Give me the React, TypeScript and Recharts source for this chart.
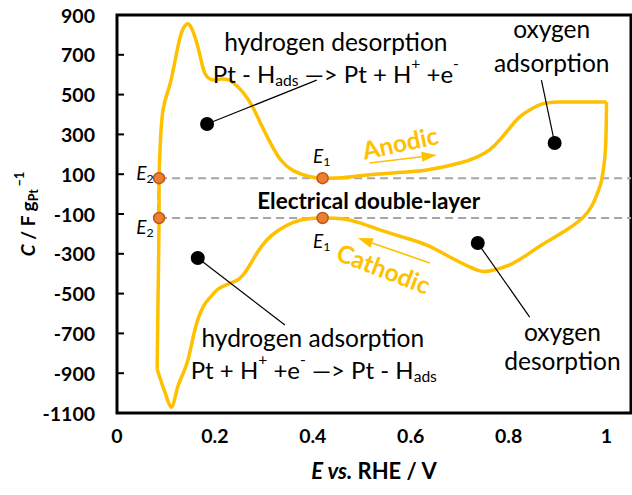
import {
  LineChart, Line, XAxis, YAxis, ReferenceLine, ReferenceDot, ReferenceArea,
} from 'recharts';

const FONT = 'Lato, "Open Sans", sans-serif';
const GOLD = '#FFC000';
const ORANGE = '#ED7D31';

const xTicks = [0, 0.2, 0.4, 0.6, 0.8, 1];
const yTicks = [-1100, -900, -700, -500, -300, -100, 100, 300, 500, 700, 900];

// anodic sweep, lower vertex -> upper vertex, [E / V, C / F g-1]
const anodicScan = [
  [0.082, -880], [0.084, -500], [0.086, -120], [0.086, 80], [0.089, 280], [0.094, 423],
  [0.103, 510], [0.112, 590], [0.126, 759], [0.135, 830], [0.143, 855], [0.152, 835],
  [0.163, 759], [0.172, 670], [0.18, 605], [0.19, 578], [0.2, 573], [0.212, 578],
  [0.225, 576], [0.236, 563], [0.257, 513], [0.277, 438], [0.297, 337], [0.315, 250],
  [0.335, 170], [0.36, 118], [0.39, 90], [0.42, 80], [0.46, 82], [0.496, 92],
  [0.563, 106], [0.633, 121], [0.7, 156], [0.735, 186], [0.761, 222], [0.782, 272],
  [0.802, 332], [0.822, 387], [0.843, 423], [0.863, 448], [0.878, 458], [0.904, 463],
  [0.95, 463], [1.0, 463],
];

// cathodic sweep, upper vertex -> lower vertex
const cathodicScan = [
  [1.0, 463], [0.999, 300], [0.996, 170], [0.99, 71], [0.984, 21], [0.971, -55],
  [0.951, -120], [0.918, -180], [0.878, -240], [0.843, -296], [0.802, -356], [0.761, -386],
  [0.741, -386], [0.72, -366], [0.68, -316], [0.633, -256], [0.584, -216], [0.537, -180],
  [0.496, -145], [0.46, -124], [0.42, -120], [0.39, -124], [0.36, -142], [0.33, -182],
  [0.306, -231], [0.285, -300], [0.265, -381], [0.25, -425], [0.237, -442], [0.22, -460],
  [0.204, -482], [0.19, -520], [0.176, -567], [0.159, -683], [0.143, -849], [0.124, -969],
  [0.112, -1070], [0.1, -1010], [0.094, -969], [0.082, -880],
];

// double-layer window: E2 / E1 on each sweep
const dlLevels = [80, -120];
const dlPoints = [
  { E: 0.086, C: 80, name: '2', lx: 0.057, ly: 111 },
  { E: 0.086, C: -120, name: '2', lx: 0.057, ly: -162 },
  { E: 0.42, C: 80, name: '1', lx: 0.418, ly: 197 },
  { E: 0.42, C: -120, name: '1', lx: 0.418, ly: -231 },
];

// process markers and their leader lines
const siteDots = [
  { E: 0.184, C: 352, toE: 0.408, toC: 573 },
  { E: 0.894, C: 257, toE: 0.867, toC: 573 },
  { E: 0.165, C: -321, toE: 0.343, toC: -658 },
  { E: 0.737, C: -246, toE: 0.843, toC: -618 },
];

type Run = { t: string; k?: 'sub' | 'sup'; i?: boolean };

const notes: { E: number; C: number; size: number; parts: Run[] }[] = [
  { E: 0.447, C: 769, size: 24.5, parts: [{ t: 'hydrogen desorption' }] },
  {
    E: 0.447, C: 609, size: 24,
    parts: [{ t: 'Pt - H' }, { t: 'ads', k: 'sub' }, { t: ' —> Pt + H' }, { t: '+', k: 'sup' }, { t: ' +e' }, { t: '-', k: 'sup' }],
  },
  { E: 0.888, C: 835, size: 24.5, parts: [{ t: 'oxygen' }] },
  { E: 0.888, C: 664, size: 24.5, parts: [{ t: 'adsorption' }] },
  { E: 0.4, C: -718, size: 24.5, parts: [{ t: 'hydrogen adsorption' }] },
  {
    E: 0.402, C: -879, size: 24,
    parts: [{ t: 'Pt + H' }, { t: '+', k: 'sup' }, { t: ' +e' }, { t: '-', k: 'sup' }, { t: ' —> Pt - H' }, { t: 'ads', k: 'sub' }],
  },
  { E: 0.91, C: -688, size: 24.5, parts: [{ t: 'oxygen' }] },
  { E: 0.91, C: -834, size: 24.5, parts: [{ t: 'desorption' }] },
];

const sweeps = [
  { E: 0.578, C: 262, text: 'Anodic', angle: -12, from: [0.516, 156], to: [0.653, 197] },
  { E: 0.545, C: -371, text: 'Cathodic', angle: 21, from: [0.639, -346], to: [0.492, -221] },
];

const anodicData = anodicScan.map(([E, C]) => ({ E, C }));
const cathodicData = cathodicScan.map(([E, C]) => ({ E, C }));

function runs(parts: Run[], size: number) {
  let shift = 0;
  return parts.map((p, idx) => {
    const target = p.k === 'sub' ? size * 0.3 : p.k === 'sup' ? -size * 0.4 : 0;
    const dy = target - shift;
    shift = target;
    return (
      <tspan key={idx} dy={dy} fontSize={p.k ? size * 0.65 : size} fontStyle={p.i ? 'italic' : undefined}>
        {p.t}
      </tspan>
    );
  });
}

const XTick = ({ x, y, payload }: any) => (
  <text x={x} y={y + 22} textAnchor="middle" dominantBaseline="central"
    fontFamily={FONT} fontWeight={700} fontSize={19.5} fill="#000">
    {String(payload.value)}
  </text>
);

const YTick = ({ x, y, payload }: any) => (
  <g>
    <line x1={x} x2={x + 7} y1={y} y2={y} stroke="#000" strokeWidth={2} />
    <text x={x - 22} y={y} textAnchor="end" dominantBaseline="central"
      fontFamily={FONT} fontWeight={700} fontSize={19.5} fill="#000">
      {payload.value}
    </text>
  </g>
);

const XTitle = ({ viewBox }: any) => (
  <text x={viewBox.x + viewBox.width / 2} y={viewBox.y + 57} textAnchor="middle"
    dominantBaseline="central" fontFamily={FONT} fontSize={22} fontWeight={700} fill="#000">
    <tspan fontStyle="italic">E vs.</tspan>
    <tspan> RHE / V</tspan>
  </text>
);

const YTitle = ({ viewBox }: any) => {
  const cx = viewBox.x + 27;
  const cy = viewBox.y + viewBox.height / 2;
  return (
    <text x={cx} y={cy} transform={`rotate(-90 ${cx} ${cy})`} textAnchor="middle"
      dominantBaseline="central" fontFamily={FONT} fontSize={19} fontWeight={700} fill="#000">
      {runs([{ t: 'C', i: true }, { t: ' / F g' }, { t: 'Pt', k: 'sub' }, { t: ' −1', k: 'sup' }], 19)}
    </text>
  );
};

const noteText = (parts: Run[], size: number, extra: any = {}) => (props: any) => {
  const { viewBox } = props;
  const x = viewBox.x + viewBox.width / 2;
  const y = viewBox.y + viewBox.height / 2;
  const { angle, ...rest } = extra;
  return (
    <text x={x} y={y} textAnchor="middle" dominantBaseline="central" fontFamily={FONT}
      fontSize={size} fill="#000" {...rest}
      transform={angle ? `rotate(${angle} ${x} ${y})` : undefined}>
      {runs(parts, size)}
    </text>
  );
};

const ArrowShape = (p: any) => {
  const { x1, y1, x2, y2 } = p;
  const a = Math.atan2(y2 - y1, x2 - x1);
  const len = 15;
  const half = 5;
  const bx = x2 - len * Math.cos(a);
  const by = y2 - len * Math.sin(a);
  const pts = `${x2},${y2} ${bx - half * Math.sin(a)},${by + half * Math.cos(a)} ${bx + half * Math.sin(a)},${by - half * Math.cos(a)}`;
  return (
    <g>
      <line x1={x1} y1={y1} x2={bx} y2={by} stroke={GOLD} strokeWidth={1.6} />
      <polygon points={pts} fill={GOLD} />
    </g>
  );
};

export default function App() {
  return (
    <div style={{ position: 'absolute', left: 0, top: 0, background: '#fff' }}>
      <LineChart width={632} height={495} margin={{ top: 15, right: 1, bottom: 0, left: 0 }}>
        <XAxis type="number" dataKey="E" domain={[0, 1.05]} ticks={xTicks} interval={0}
          allowDataOverflow height={82} axisLine={false} tickLine={false} tickSize={0}
          tickMargin={0} tick={<XTick />} label={<XTitle />} />
        <YAxis type="number" dataKey="C" domain={[-1100, 900]} ticks={yTicks} interval={0}
          allowDataOverflow width={117} axisLine={false} tickLine={false} tickSize={0}
          tickMargin={0} tick={<YTick />} label={<YTitle />} />

        {dlLevels.map((c) => (
          <ReferenceLine key={c} segment={[{ x: 0.086, y: c }, { x: 1.05, y: c }]}
            stroke="#A6A6A6" strokeWidth={2} strokeDasharray="8 5" />
        ))}
        <ReferenceLine segment={[{ x: 0.084, y: dlLevels[0] }, { x: 0.084, y: dlLevels[1] }]}
          stroke="#A6A6A6" strokeWidth={2} strokeDasharray="8 5" />

        <Line data={anodicData} dataKey="C" type="natural" stroke={GOLD} strokeWidth={3.5}
          dot={false} activeDot={false} isAnimationActive={false} />
        <Line data={cathodicData} dataKey="C" type="natural" stroke={GOLD} strokeWidth={3.5}
          dot={false} activeDot={false} isAnimationActive={false} />

        {siteDots.map((d, i) => (
          <ReferenceLine key={`l${i}`} segment={[{ x: d.E, y: d.C }, { x: d.toE, y: d.toC }]}
            stroke="#000" strokeWidth={1.2} />
        ))}
        {siteDots.map((d, i) => (
          <ReferenceDot key={`d${i}`} x={d.E} y={d.C} r={7} fill="#000" stroke="none" />
        ))}

        {dlPoints.map((p, i) => (
          <ReferenceDot key={`p${i}`} x={p.E} y={p.C} r={5.5} fill={ORANGE} stroke="#B85A1E"
            strokeWidth={1.5} />
        ))}
        {dlPoints.map((p, i) => (
          <ReferenceDot key={`pl${i}`} x={p.lx} y={p.ly} r={0} fill="none" stroke="none"
            label={noteText([{ t: 'E', i: true }, { t: p.name, k: 'sub' }], 19)} />
        ))}

        {notes.map((n, i) => (
          <ReferenceDot key={`n${i}`} x={n.E} y={n.C} r={0} fill="none" stroke="none"
            label={noteText(n.parts, n.size)} />
        ))}
        <ReferenceDot x={0.514} y={-30} r={0} fill="none" stroke="none"
          label={noteText([{ t: 'Electrical double-layer' }], 22.5, { fontWeight: 700 })} />

        {sweeps.map((s) => (
          <ReferenceLine key={`a${s.text}`} segment={[{ x: s.from[0], y: s.from[1] }, { x: s.to[0], y: s.to[1] }]}
            shape={<ArrowShape />} />
        ))}
        {sweeps.map((s) => (
          <ReferenceDot key={`t${s.text}`} x={s.E} y={s.C} r={0} fill="none" stroke="none"
            label={noteText([{ t: s.text }], 24.5, { fontWeight: 700, fill: GOLD, angle: s.angle })} />
        ))}

        <ReferenceArea x1={0} x2={1.05} y1={-1100} y2={900} fill="none" stroke="#000"
          strokeWidth={3} />
      </LineChart>
    </div>
  );
}
